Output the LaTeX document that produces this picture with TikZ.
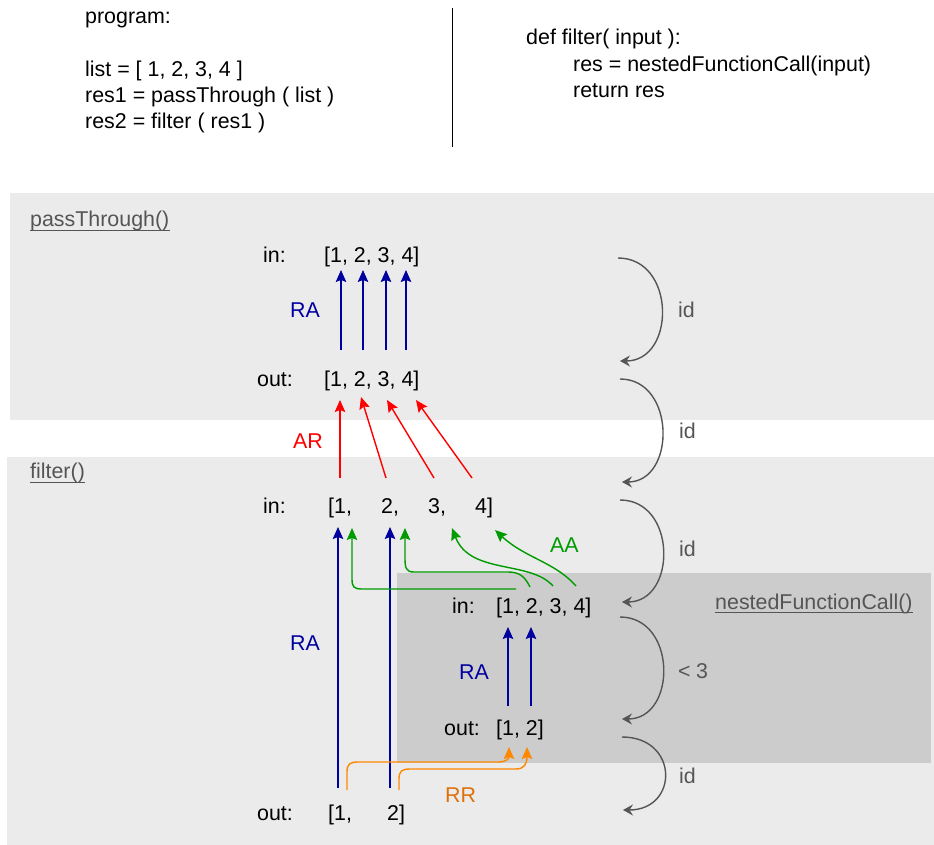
\documentclass[tikz,border=0pt]{standalone}
\usepackage{fontspec}
\setmainfont{Liberation Sans}
\usetikzlibrary{arrows.meta}

\definecolor{boxgray}{HTML}{EBEBEB}
\definecolor{nestgray}{HTML}{CCCCCC}
\definecolor{flowgray}{HTML}{555555}
\definecolor{rablue}{RGB}{0,0,160}
\definecolor{arred}{RGB}{255,0,0}
\definecolor{aagreen}{RGB}{0,155,0}
\definecolor{rrorange}{RGB}{255,136,0}
\definecolor{rrlabel}{RGB}{224,112,10}

\tikzset{
  txt/.style={inner sep=0pt, anchor=base west, font=\fontsize{21.4}{25}\selectfont},
  ttl/.style={txt, text=flowgray},
  ul/.style={flowgray, line width=1pt},
  link/.style={line width=1.4pt, -{Stealth[length=12pt,width=10.5pt,inset=2pt]}},
  ra/.style={link, rablue},
  ar/.style={link, arred},
  aa/.style={link, aagreen},
  rr/.style={link, rrorange},
  flow/.style={flowgray, line width=1.4pt, -{Stealth[length=10pt,width=11pt,inset=3.5pt]}},
}

\begin{document}
\begin{tikzpicture}[x=1pt,y=-1pt]
\useasboundingbox (0,0) rectangle (934,845);

% scope frames
\fill[boxgray] (10,193) rectangle (934,420);
\fill[boxgray] (7,457) rectangle (934,845);
\fill[nestgray] (397,573) rectangle (931,763);

% program listing
\draw[line width=1pt] (452,8) -- (452,147);
\node[txt] (prog) at (85,24) {program:};
\node[txt] (l1) at (85,77) {list = [ 1, 2, 3, 4 ]};
\node[txt] (l2) at (85,103) {res1 = passThrough ( list )};
\node[txt] (l3) at (85,129) {res2 = filter ( res1 )};
\node[txt] (d1) at (526,45) {def filter( input ):};
\node[txt] (d2) at (573,71.5) {res = nestedFunctionCall(input)};
\node[txt] (d3) at (573,98) {return res};

% scope titles
\node[ttl] (ptT) at (30,226) {passThrough()};
\draw[ul] ([yshift=-4pt]ptT.base west) -- ([yshift=-4pt]ptT.base east);
\node[ttl] (fT) at (30,478) {filter()};
\draw[ul] ([yshift=-4pt]fT.base west) -- ([yshift=-4pt]fT.base east);
\node[ttl] (nT) at (715,609) {nestedFunctionCall()};
\draw[ul] ([yshift=-3pt]nT.base west) -- ([yshift=-3pt]nT.base east);

% passThrough values
\node[txt] (ptInL) at (263,262) {in:};
\node[txt] (ptIn) at (324,262) {[1, 2, 3, 4]};
\node[txt] (ptOutL) at (257,386) {out:};
\node[txt] (ptOut) at (324,386) {[1, 2, 3, 4]};
\node[txt, text=rablue] (ptRA) at (290,317) {RA};

% filter values
\node[txt] (fInL) at (263,513) {in:};
\node[txt] (fIn1) at (328,513) {[1,};
\node[txt] (fIn2) at (381,513) {2,};
\node[txt] (fIn3) at (428,513) {3,};
\node[txt] (fIn4) at (475,513) {4]};
\node[txt] (fOutL) at (257,820) {out:};
\node[txt] (fOut1) at (328,820) {[1,};
\node[txt] (fOut2) at (387,820) {2]};
\node[txt, text=rablue] (fRA) at (290,650) {RA};
\node[txt, text=arred] (fAR) at (293,448) {AR};
\node[txt, text=aagreen] (fAA) at (550,552) {AA};
\node[txt, text=rrlabel] (fRR) at (445,802) {RR};

% nestedFunctionCall values
\node[txt] (nInL) at (452,613) {in:};
\node[txt] (nIn) at (496,613) {[1, 2, 3, 4]};
\node[txt] (nOutL) at (444,735) {out:};
\node[txt] (nOut) at (496,735) {[1, 2]};
\node[txt, text=rablue] (nRA) at (459,679) {RA};

% value-flow labels
\node[ttl] (id1) at (678,317) {id};
\node[ttl] (id2) at (679,438) {id};
\node[ttl] (id3) at (679,556) {id};
\node[ttl] (lt3) at (678,678) {<\hspace{0.25em}3};
\node[ttl] (id4) at (679,783) {id};

% passThrough: out -> in
\foreach \x [count=\i] in {341,363,386,406} {
  \coordinate (ptA\i) at (\x,350);
  \coordinate (ptB\i) at (\x,270);
  \draw[ra] (ptA\i) -- (ptB\i);
}

% filter in -> passThrough out
\coordinate (arA1) at (340,478); \coordinate (arB1) at (340,400);
\coordinate (arA2) at (386,478); \coordinate (arB2) at (361,397);
\coordinate (arA3) at (434,478); \coordinate (arB3) at (387,400);
\coordinate (arA4) at (472,478); \coordinate (arB4) at (416,400);
\foreach \i in {1,...,4} { \draw[ar] (arA\i) -- (arB\i); }

% filter: out -> in
\coordinate (fA1) at (338,788); \coordinate (fB1) at (338,527);
\coordinate (fA2) at (390,788); \coordinate (fB2) at (390,527);
\draw[ra] (fA1) -- (fB1);
\draw[ra] (fA2) -- (fB2);

% nested: out -> in
\coordinate (nA1) at (508,706); \coordinate (nB1) at (508,627);
\coordinate (nA2) at (531,706); \coordinate (nB2) at (531,627);
\draw[ra] (nA1) -- (nB1);
\draw[ra] (nA2) -- (nB2);

% nested in -> filter in
\coordinate (gA1) at (516,589); \coordinate (gB1) at (352,528);
\coordinate (gA2) at (530,587); \coordinate (gB2) at (405,528);
\coordinate (gA3) at (553,586); \coordinate (gB3) at (452,528);
\coordinate (gA4) at (576,586); \coordinate (gB4) at (495,530);
\draw[aa] (gA1) -- (362,589) .. controls (354,589) and (352,587) .. (352,579) -- (gB1);
\draw[aa] (gA2) .. controls (525,577) and (520,572) .. (508,572) -- (414,572)
          .. controls (406,572) and (405,568) .. (405,558) -- (gB2);
\draw[aa] (gA3) .. controls (530,560) and (470,575) .. (gB3);
\draw[aa] (gA4) .. controls (555,562) and (525,558) .. (gB4);

% filter out -> nested out
\coordinate (oA1) at (347,790); \coordinate (oB1) at (509,747);
\coordinate (oA2) at (399,790); \coordinate (oB2) at (527,747);
\draw[rr] (oA1) -- (347,772) .. controls (347,764) and (350,762) .. (358,762) -- (498,762)
          .. controls (506,762) and (509,759) .. (oB1);
\draw[rr] (oA2) -- (399,779) .. controls (399,771) and (402,769) .. (410,769) -- (516,769)
          .. controls (524,769) and (527,764) .. (oB2);

% value flow between stages
\coordinate (c1a) at (618,258); \coordinate (c1b) at (620,361);
\coordinate (c2a) at (620,379); \coordinate (c2b) at (622,482);
\coordinate (c3a) at (620,500); \coordinate (c3b) at (622,602);
\coordinate (c4a) at (620,617); \coordinate (c4b) at (622,719);
\coordinate (c5a) at (622,737); \coordinate (c5b) at (623,810);
\draw[flow] (c1a) .. controls (676,258) and (676,361) .. (c1b);
\draw[flow] (c2a) .. controls (676,379) and (676,482) .. (c2b);
\draw[flow] (c3a) .. controls (677,500) and (677,602) .. (c3b);
\draw[flow] (c4a) .. controls (677,617) and (677,719) .. (c4b);
\draw[flow] (c5a) .. controls (679,737) and (679,810) .. (c5b);
\end{tikzpicture}
\end{document}
